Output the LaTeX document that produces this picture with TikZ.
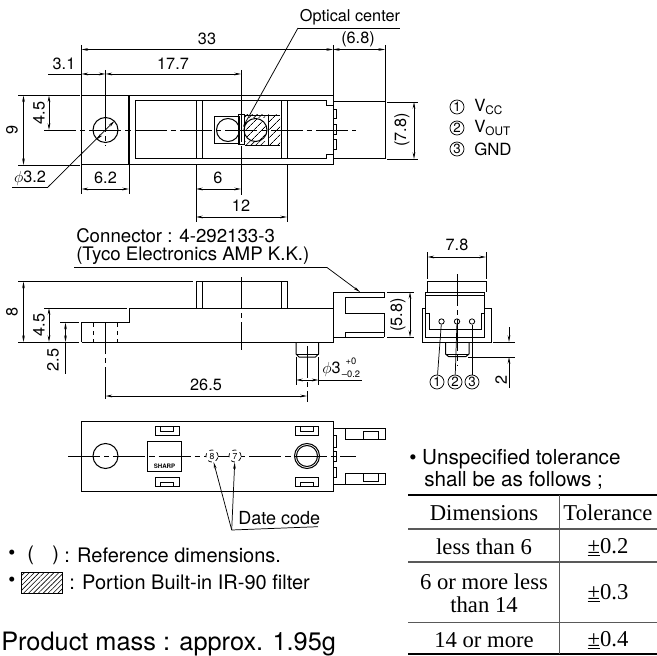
\documentclass[tikz,border=0pt]{standalone}
\usepackage{fontspec}
\setmainfont{TeX Gyre Heros}
\newfontfamily\tablefont{Liberation Serif}
\usetikzlibrary{arrows.meta,patterns.meta}
\tikzset{
	part/.style={line width=0.75pt, line join=miter},
	thinline/.style={line width=0.55pt},
	center/.style={line width=0.55pt, dash pattern=on 24pt off 3pt on 4pt off 3pt},
	dim/.style={line width=0.55pt, {Stealth[length=5pt,width=2pt]}-{Stealth[length=5pt,width=2pt]}},
	lead/.style={line width=0.55pt, -{Stealth[length=5pt,width=2pt]}},
	label/.style={inner sep=0pt, font=\fontsize{12.2}{14}\selectfont},
	note/.style={inner sep=0pt, anchor=west, font=\fontsize{15}{17}\selectfont},
	pinnum/.style={circle, draw, line width=0.55pt, inner sep=0pt, minimum size=10.5pt, font=\fontsize{10}{10}\selectfont},
	cell/.style={inner sep=0pt, align=center, font=\tablefont\fontsize{17}{17.5}\selectfont},
	hatch/.style={pattern={Lines[angle=45,distance=2.6pt,line width=0.45pt]}},
	widehatch/.style={pattern={Lines[angle=45,distance=4pt,line width=0.5pt]}},
	tablerule/.style={line width=0.8pt, gray!70!black}
}
\begin{document}
\begin{tikzpicture}[x=0.75pt, y=-0.75pt]
	\useasboundingbox (0,0) rectangle (657,656);

	% top view
	\draw[part] (81.5,95.5) rectangle (333,165);
	\draw[part, line width=1.1pt] (129,95.5) -- (129,165);
	\draw[part] (135,101) rectangle (196,159);
	\draw[part] (196,101) -- (326,101) -- (326,106) -- (333,106);
	\draw[part] (196,159) -- (326,159) -- (326,155) -- (333,155);
	\draw[part] (202,101) -- (202,159);
	\draw[part] (281,101) -- (281,159);
	\draw[part] (287,101) -- (287,159);
	\draw[part] (333,102) -- (385,102);
	\draw[part] (333,159) -- (385,159);
	\draw[thinline] (333,45) -- (333,95);
	\draw[thinline] (385,45) -- (385,159);
	\draw[part] (333,110) rectangle (336,119);
	\draw[part] (333,125) rectangle (336,135);
	\draw[part] (333,140) rectangle (336,150);
	\draw[part] (105.5,130) circle (12.5);

	% optical part
	\draw[part] (214.5,116.5) rectangle (239,143.5);
	\draw[part] (228,130) circle (11.5);
	\draw[hatch, draw=none] (245,115) rectangle (265,118);
	\draw[hatch, draw=none] (245,142) rectangle (265,145);
	\draw[widehatch, draw=black, part] (255.5,130) circle (11.5);
	\draw[widehatch, draw=none] (268,115) rectangle (280,145);
	\draw[part] (268,115) -- (268,145);
	\draw[part] (238.5,115) rectangle (244.5,145);
	\draw[thinline] (245,115) -- (280,115);
	\draw[thinline] (245,145) -- (280,145);

	% center lines
	\draw[center] (44,130) -- (356,130);
	\draw[thinline] (105.5,70) -- (105.5,100);
	\draw[center] (105.5,100) -- (105.5,146);
	\draw[thinline] (241,70) -- (241,110);
	\draw[center] (241,110) -- (241,150);
	\draw[thinline] (241,150) -- (241,195);

	% dimensions top
	\draw[thinline] (81.5,45) -- (81.5,95);
	\draw[dim] (81.5,49.5) -- (333,49.5);
	\node[label] (d33) at (207,39) {33};
	\draw[dim] (333,49.5) -- (385,49.5);
	\node[label] (d68) at (358,39) {(6.8)};
	\draw[thinline] (48,74) -- (81.5,74);
	\draw[dim] (81.5,74) -- (105.5,74);
	\node[label] (d31) at (64,64) {3.1};
	\draw[dim] (105.5,74) -- (241,74);
	\node[label] (d177) at (173,64) {17.7};
	\node[label] (optical) at (350,17) {Optical center};
	\coordinate (opticalfoot) at (298,28);
	\draw[thinline] (opticalfoot) -- (400,28);
	\draw[lead] (opticalfoot) -- (243,127);
	\draw[thinline] (18,95.5) -- (80,95.5);
	\draw[thinline] (18,165) -- (80,165);
	\draw[dim] (23.5,95.5) -- (23.5,165);
	\node[label, rotate=90] (d9) at (12,130) {9};
	\draw[dim] (49,95.5) -- (49,130);
	\node[label, rotate=90] (d45) at (39,113) {4.5};
	\node[label] (dphi) at (30,178) {$\phi$3.2};
	\coordinate (phifoot) at (48,187);
	\draw[thinline] (12,187) -- (phifoot);
	\draw[lead] (phifoot) -- (114.5,121);
	\draw[lead] (98,138) -- (96.5,139.5);
	\draw[thinline] (81.5,165) -- (81.5,194);
	\draw[thinline] (129,165) -- (129,194);
	\draw[thinline] (196,165) -- (196,222);
	\draw[thinline] (287,165) -- (287,222);
	\draw[dim] (81.5,189) -- (129,189);
	\node[label] (d62) at (105.5,178) {6.2};
	\draw[dim] (196,189) -- (241,189);
	\node[label] (d6) at (218,178) {6};
	\draw[dim] (196,217) -- (287,217);
	\node[label] (d12) at (241,206) {12};

	% legend of pins
	\node[pinnum] (legendone) at (457,107) {1};
	\node[pinnum] (legendtwo) at (457,128) {2};
	\node[pinnum] (legendthree) at (457,149) {3};
	\node[note, font=\fontsize{12.6}{14}\selectfont] (vcc) at (474,107) {V\textsubscript{CC}};
	\node[note, font=\fontsize{12.6}{14}\selectfont] (vout) at (474,128) {V\textsubscript{OUT}};
	\node[note, font=\fontsize{12.6}{14}\selectfont] (gnd) at (474,149) {GND};
	\draw[thinline] (387,102) -- (418,102);
	\draw[thinline] (387,159) -- (418,159);
	\draw[dim] (414,102) -- (414,159);
	\node[label, rotate=90] (d78) at (402,130) {(7.8)};

	% side view
	\draw[part] (81.5,342) -- (81.5,322.7) -- (129.5,322.7) -- (129.5,308) -- (333,308);
	\draw[part] (81.5,342) -- (333,342) -- (333,292) -- (384,292) -- (384,297.5) -- (345,297.5) -- (345,313.5) -- (384,313.5) -- (384,337);
	\draw[part] (333,337) -- (384,337);
	\draw[part] (345,337) -- (345,332.5) -- (384,332.5);
	\draw[part] (196,308) -- (196,281.7) -- (287,281.7) -- (287,308);
	\draw[part] (202,281.7) -- (202,308);
	\draw[part] (281,281.7) -- (281,308);
	\draw[part] (296,342) -- (296,354) -- (299,357) -- (315.5,357) -- (318.5,354) -- (318.5,342);
	\draw[thinline] (296,354) -- (318.5,354);
	\draw[part, dashed] (93.5,323) -- (93.5,342);
	\draw[part, dashed] (117.5,323) -- (117.5,342);
	\draw[center] (241,277) -- (241,350);
	\draw[center] (105.5,322) -- (105.5,402);
	\draw[center] (307,346) -- (307,402);

	% dimensions side
	\node[note, font=\fontsize{14}{16}\selectfont] (connector) at (76,236) {Connector : 4-292133-3};
	\node[note, font=\fontsize{14}{16}\selectfont] (tyco) at (76,256) {(Tyco Electronics AMP K.K.)};
	\coordinate (tycofoot) at (327,267.5);
	\draw[thinline] (74,267.5) -- (tycofoot);
	\draw[lead] (tycofoot) -- (360,292);
	\draw[thinline] (18,281.7) -- (193,281.7);
	\draw[thinline] (18,342) -- (79,342);
	\draw[dim] (23.5,281.7) -- (23.5,342);
	\node[label, rotate=90] (d8) at (12,312) {8};
	\draw[thinline] (44,308) -- (127,308);
	\draw[dim] (49,308) -- (49,342);
	\node[label, rotate=90] (dd45) at (39,325) {4.5};
	\draw[thinline] (60,322.7) -- (79,322.7);
	\draw[dim] (65.5,322.7) -- (65.5,342);
	\draw[thinline] (65.5,342) -- (65.5,374);
	\node[label, rotate=90] (d25) at (53,360) {2.5};
	\draw[thinline] (296,357) -- (296,385);
	\draw[thinline] (318.5,357) -- (318.5,385);
	\draw[dim] (296,380) -- (318.5,380);
	\draw[thinline] (318.5,380) -- (362,380);
	\node[label, anchor=west] (dpin) at (322,369) {$\phi$3};
	\node[inner sep=0pt, font=\fontsize{7}{7}\selectfont] (dplus) at (351,361.5) {+0};
	\node[inner sep=0pt, font=\fontsize{7}{7}\selectfont] (dminus) at (351,374) {--0.2};
	\draw[dim] (105.5,396) -- (307,396);
	\node[label] (d265) at (206,385) {26.5};
	\draw[thinline] (387,292) -- (414,292);
	\draw[thinline] (387,337) -- (414,337);
	\draw[dim] (410,292) -- (410,337);
	\node[label, rotate=90] (d58) at (398,315) {(5.8)};

	% end view
	\draw[part] (427,292) -- (427,281.7) -- (486,281.7) -- (486,292);
	\draw[part] (425.5,292) -- (484.5,292);
	\draw[part] (425.5,295.7) -- (484.5,295.7);
	\draw[part] (425.5,292) -- (425.5,337) -- (484.5,337) -- (484.5,292);
	\draw[part] (425.5,308) -- (422,308) -- (422,342) -- (491,342) -- (491,308) -- (484.5,308);
	\draw[part] (425.5,313) -- (429,313) -- (429,329) -- (481.5,329) -- (481.5,313) -- (484.5,313);
	\draw[part] (445.5,342) -- (445.5,354) -- (448.5,356.5) -- (466,356.5) -- (469,354) -- (469,342);
	\draw[thinline] (445.5,354) -- (469,354);
	\node[circle, draw, line width=0.6pt, inner sep=0pt, minimum size=4pt] (pinone) at (441.5,321.5) {};
	\node[circle, draw, line width=0.6pt, inner sep=0pt, minimum size=4pt] (pintwo) at (457,321.5) {};
	\node[circle, draw, line width=0.6pt, inner sep=0pt, minimum size=4pt] (pinthree) at (472,321.5) {};
	\node[pinnum] (numone) at (437,382) {1};
	\node[pinnum] (numtwo) at (455,382) {2};
	\node[pinnum] (numthree) at (472,382) {3};
	\draw[thinline] (pinone) -- (numone);
	\draw[thinline] (pintwo) -- (numtwo);
	\draw[thinline] (pinthree) -- (numthree);
	\draw[center] (457,274) -- (457,365);
	\draw[thinline] (427.5,252) -- (427.5,279);
	\draw[thinline] (486,252) -- (486,279);
	\draw[dim] (427.5,257) -- (486,257);
	\node[label] (d78b) at (457,245) {7.8};
	\draw[thinline] (493,342) -- (515,342);
	\draw[thinline] (468,357) -- (515,357);
	\draw[lead] (509,327) -- (509,342);
	\draw[lead] (509,388) -- (509,357);
	\node[label, rotate=90] (d2) at (501,380) {2};

	% bottom view
	\draw[part] (81.5,421.7) rectangle (333,491);
	\draw[part] (105.5,456) circle (12.5);
	\draw[part] (147.7,441) rectangle (181.5,471);
	\node[inner sep=0pt, font=\bfseries\fontsize{4.6}{5}\selectfont] (sharp) at (164.5,466) {SHARP};
	\draw[part] (155,426) rectangle (179,435);
	\draw[part] (160,426) -- (160,431) -- (173,431) -- (173,426);
	\draw[part] (155,477) rectangle (179,486);
	\draw[part] (160,486) -- (160,482) -- (173,482) -- (173,486);
	\draw[part] (295,426) rectangle (318.5,435);
	\draw[part] (300,426) -- (300,431) -- (313,431) -- (313,426);
	\draw[part] (295,477) rectangle (318.5,486);
	\draw[part] (300,486) -- (300,482) -- (313,482) -- (313,486);
	\draw[part] (307,456) circle (12.5);
	\draw[part] (307,456) circle (10.5);
	\draw[center] (68,456) -- (356,456);
	\node[circle, draw, dashed, thinline, inner sep=0pt, minimum size=9pt, font=\fontsize{6.5}{7}\selectfont, fill=white] (codeeight) at (212,456) {8};
	\node[circle, draw, dashed, thinline, inner sep=0pt, minimum size=9pt, font=\fontsize{6.5}{7}\selectfont, fill=white] (codeseven) at (235,456) {7};
	\coordinate (datefoot) at (231.7,530);
	\draw[lead] (datefoot) -- (codeeight);
	\draw[lead] (datefoot) -- (codeseven);
	\draw[thinline] (datefoot) -- (318,526.7);
	\node[note, font=\fontsize{13.5}{15}\selectfont] (datecode) at (238,518) {Date code};
	\draw[part] (333,428) -- (385,428) -- (385,439) -- (345.7,439) -- (345.7,428);
	\draw[part] (333,484) -- (385,484) -- (385,473) -- (345.7,473) -- (345.7,484);
	\draw[part] (363,439) -- (363,431) -- (378,431) -- (378,439);
	\draw[part] (363,473) -- (363,481) -- (378,481) -- (378,473);
	\draw[part] (333,435) rectangle (336,447);
	\draw[part] (333,451) rectangle (336,461);
	\draw[part] (333,467) rectangle (336,477);

	% notes
	\node[note] (bulletone) at (8,555) {•};
	\node[note] (parenone) at (27,555) {(};
	\node[note] (parentwo) at (52,555) {)};
	\node[note] (reference) at (64,555) {: Reference dimensions.};
	\node[note] (bullettwo) at (8,582) {•};
	\draw[hatch, draw=black, thinline] (21,572) rectangle (62,593);
	\node[note] (portion) at (69,582) {: Portion Built-in IR-90 filter};
	\node[inner sep=0pt, anchor=west, font=\fontsize{19}{21}\selectfont] (mass) at (1,644) {Product mass : approx. 1.95g};
	\node[note, font=\fontsize{15.5}{17}\selectfont] (unspec) at (409,459) {• Unspecified tolerance};
	\node[note, font=\fontsize{15.5}{17}\selectfont] (shall) at (424,480) {shall be as follows ;};

	% table
	\draw[line width=1.3pt] (408,495) -- (657,495);
	\draw[tablerule] (408,529) -- (657,529);
	\draw[tablerule] (408,562) -- (657,562);
	\draw[tablerule] (408,622.5) -- (657,622.5);
	\draw[line width=1.3pt] (408,654) -- (657,654);
	\draw[tablerule] (559.5,495) -- (559.5,654);
	\node[cell] (dimhead) at (484,513) {Dimensions};
	\node[cell] (tolhead) at (608,513) {Tolerance};
	\node[cell] (rowone) at (484,547) {less than 6};
	\node[cell] (tolone) at (608,547) {\underline{±}0.2};
	\node[cell] (rowtwo) at (484,593) {6 or more less\\than 14};
	\node[cell] (toltwo) at (608,593) {\underline{±}0.3};
	\node[cell] (rowthree) at (484,640) {14 or more};
	\node[cell] (tolthree) at (608,640) {\underline{±}0.4};
\end{tikzpicture}
\end{document}
